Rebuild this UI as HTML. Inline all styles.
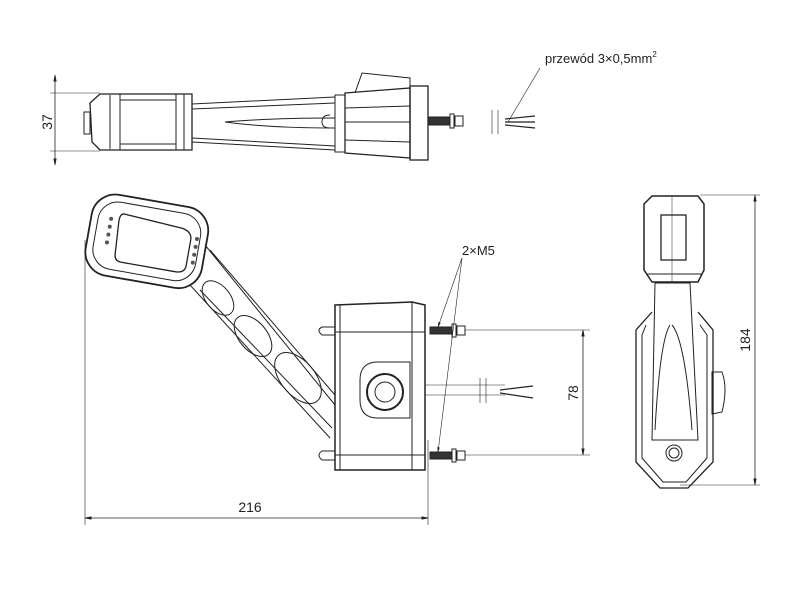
<!DOCTYPE html><html><head><style>body{margin:0;background:#fff}svg{display:block}text{font-family:"Liberation Sans",sans-serif;fill:#222}</style></head><body>
<svg width="800" height="600" viewBox="0 0 800 600" xmlns="http://www.w3.org/2000/svg" fill="none" stroke="#222" stroke-width="1">
<defs><marker id="a" viewBox="0 0 10 10" refX="10" refY="5" markerWidth="8" markerHeight="8" orient="auto-start-reverse"><path d="M0,3L10,5L0,7z" fill="#222"/></marker></defs>
<!-- TOP VIEW -->
<line x1="55" y1="75" x2="55" y2="165" stroke-width="0.8" marker-start="url(#a)" marker-end="url(#a)"/>
<line x1="50" y1="93" x2="100" y2="93" stroke-width="0.6"/><line x1="50" y1="151" x2="100" y2="151" stroke-width="0.6"/>
<text x="52" y="122" font-size="14" stroke="none" transform="rotate(-90 52 122)" text-anchor="middle">37</text>
<path d="M100,94 L192,94 L192,150 L100,150 L92,142 L90,103 Z" stroke-width="1.3"/>
<rect x="84" y="112" width="6" height="22"/>
<line x1="110" y1="95" x2="110" y2="149"/><line x1="120" y1="94" x2="120" y2="150"/>
<line x1="176" y1="94" x2="176" y2="150"/><line x1="184" y1="94" x2="184" y2="150"/>
<line x1="120" y1="100" x2="176" y2="100"/><line x1="120" y1="144" x2="176" y2="144"/>
<path d="M192,104 L335,97 M192,142 L335,150 M192,109 L335,103 M192,138 L335,146"/>
<path d="M335,118 Q270,118 225,122 Q270,128 335,128" />
<rect x="335" y="95" width="10" height="57"/>
<path d="M345,93 L410,88 L410,158 L345,153 Z" stroke-width="1.3"/>
<path d="M345,108 L410,106 M345,140 L410,142 M345,122 L410,122"/>
<path d="M355,93 L362,73 L410,78 L410,88"/>
<rect x="410" y="86" width="18" height="74" stroke-width="1.3"/>
<path d="M330,115 Q322,115 322,122 Q322,128 330,128"/>
<rect x="428" y="117" width="22" height="8" fill="#333"/><rect x="450" y="114" width="4" height="14"/><rect x="455" y="116" width="8" height="10"/>
<path d="M492,110 L492,134 M498,110 L498,134" stroke-width="0.6"/>
<path d="M505,119 L535,116 M505,122 L535,122 M505,125 L535,128" stroke-width="1.2"/>
<line x1="508" y1="122" x2="540" y2="68" stroke-width="0.6"/>
<text x="545" y="63" font-size="13" stroke="none">przewód 3×0,5mm<tspan font-size="8" dy="-6">2</tspan></text>
<!-- SIDE VIEW -->
<line x1="85" y1="240" x2="85" y2="525" stroke-width="0.6"/><line x1="428" y1="440" x2="428" y2="525" stroke-width="0.6"/>
<line x1="85" y1="518" x2="428" y2="518" stroke-width="0.8" marker-start="url(#a)" marker-end="url(#a)"/>
<text x="250" y="512" font-size="14" stroke="none" text-anchor="middle">216</text>
<g transform="rotate(10 145 240)">
<rect x="88" y="200" width="118" height="82" rx="24" stroke-width="1.8"/>
<rect x="95" y="207" width="104" height="68" rx="20"/>
<path d="M120,218 L180,222 Q190,224 190,232 L190,258 Q190,266 180,266 L125,266 Q118,266 118,258 L116,226 Q116,218 120,218Z" stroke-width="1.3"/>
<g fill="#555" stroke="none"><circle cx="108" cy="225" r="2"/><circle cx="108" cy="233" r="2"/><circle cx="108" cy="241" r="2"/><circle cx="108" cy="249" r="2"/><circle cx="196" cy="230" r="2"/><circle cx="196" cy="238" r="2"/><circle cx="196" cy="246" r="2"/><circle cx="196" cy="254" r="2"/></g>
</g>
<path d="M205,245 L335,405 M190,285 L330,438 M200,290 L332,428 M210,250 L335,395" stroke-width="1"/>
<ellipse cx="218" cy="298" rx="20" ry="12" transform="rotate(50 218 298)"/>
<ellipse cx="253" cy="336" rx="24" ry="14" transform="rotate(50 253 336)"/>
<ellipse cx="298" cy="378" rx="30" ry="17" transform="rotate(50 298 378)"/>
<path d="M335,305 L412,302 L425,305 L425,470 L335,470 Z" stroke-width="1.5"/>
<line x1="412" y1="302" x2="412" y2="470"/><line x1="340" y1="305" x2="340" y2="470"/>
<line x1="335" y1="332" x2="425" y2="332"/><line x1="335" y1="455" x2="425" y2="455"/>
<path d="M360,380 Q360,362 378,362 L410,362 L410,418 L378,418 Q360,418 360,400Z"/>
<circle cx="385" cy="392" r="18" stroke-width="2"/><circle cx="385" cy="392" r="10"/>
<path d="M335,327 L322,327 Q316,330 322,335 L335,335 M335,451 L322,451 Q316,455 322,460 L335,460"/>
<rect x="430" y="327" width="22" height="7" fill="#333"/><rect x="452" y="324" width="4" height="13"/><rect x="457" y="326" width="8" height="9"/>
<rect x="430" y="452" width="22" height="7" fill="#333"/><rect x="452" y="449" width="4" height="13"/><rect x="457" y="451" width="8" height="9"/>
<line x1="465" y1="330" x2="590" y2="330" stroke-width="0.6"/><line x1="465" y1="455" x2="590" y2="455" stroke-width="0.6"/>
<line x1="583" y1="330" x2="583" y2="455" stroke-width="0.8" marker-start="url(#a)" marker-end="url(#a)"/>
<text x="578" y="393" font-size="14" stroke="none" transform="rotate(-90 578 393)" text-anchor="middle">78</text>
<path d="M425,385 L505,385 M425,395 L505,395" stroke-width="0.6"/>
<path d="M480,378 L480,403 M486,378 L486,403" stroke-width="0.6"/>
<path d="M500,390 L533,386 M500,393 L533,398" stroke-width="1.2"/>
<text x="462" y="255" font-size="13" stroke="none">2×M5</text>
<line x1="462" y1="258" x2="438" y2="327" stroke-width="0.6" marker-end="url(#a)"/>
<line x1="462" y1="258" x2="438" y2="452" stroke-width="0.6" marker-end="url(#a)"/>
<!-- FRONT VIEW -->
<line x1="700" y1="195" x2="760" y2="195" stroke-width="0.6"/><line x1="680" y1="485" x2="760" y2="485" stroke-width="0.6"/>
<line x1="755" y1="195" x2="755" y2="485" stroke-width="0.8" marker-start="url(#a)" marker-end="url(#a)"/>
<text x="750" y="340" font-size="14" stroke="none" transform="rotate(-90 750 340)" text-anchor="middle">184</text>
<path d="M652,196 L698,196 L704,204 L704,270 L698,282 L652,282 L644,270 L644,204 Z" stroke-width="1.5"/>
<rect x="661" y="215" width="25" height="45" stroke-width="1.3"/>
<line x1="672" y1="196" x2="672" y2="282" stroke-width="0.5"/>
<line x1="647" y1="274" x2="702" y2="274"/>
<path d="M655,283 L690,283 L698,440 L652,440 Z"/>
<path d="M670,325 Q660,340 655,430 M672,325 Q685,340 692,430"/>
<path d="M652,312 L636,330 L636,462 L660,488 L688,488 L713,462 L713,330 L698,312" stroke-width="1.3"/>
<path d="M646,325 L642,335 L642,458 L663,482 L686,482 L707,458 L707,335 L700,325"/>
<path d="M712,372 L722,372 Q728,388 722,412 L712,414 Z"/>
<circle cx="674" cy="453" r="8"/><circle cx="674" cy="453" r="5"/>
</svg></body></html>
